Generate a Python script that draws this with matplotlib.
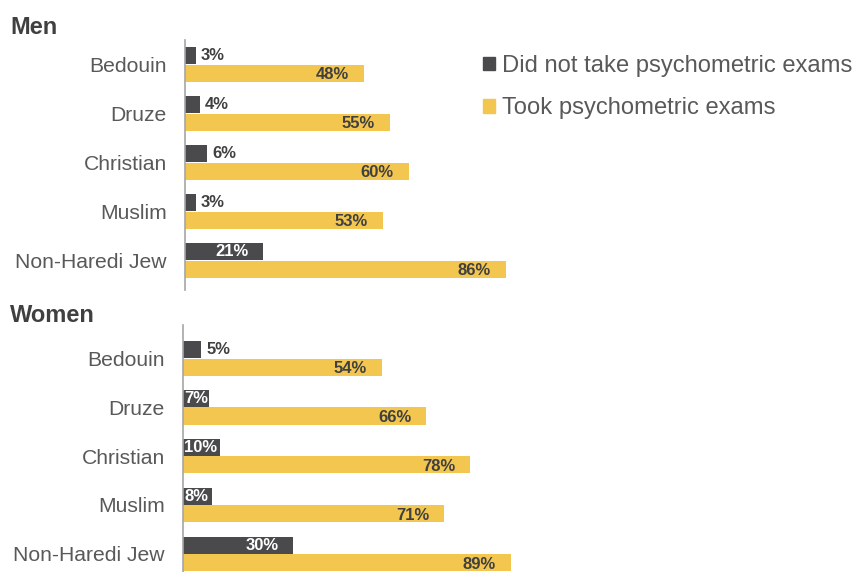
import matplotlib.pyplot as plt
from matplotlib.patches import Patch

plt.rcParams['font.family'] = ['Liberation Sans', 'DejaVu Sans']

groups = ["Bedouin", "Druze", "Christian", "Muslim", "Non-Haredi Jew"]
series_names = ["Did not take psychometric exams", "Took psychometric exams"]

men_not_took = [3, 4, 6, 3, 21]
men_took = [48, 55, 60, 53, 86]
women_not_took = [5, 7, 10, 8, 30]
women_took = [54, 66, 78, 71, 89]

DARK = "#4a4a4c"
YELLOW = "#f2c64f"
TEXT = "#595959"
LABEL = "#404040"

W, H = 857, 572
fig = plt.figure(figsize=(W / 100, H / 100), dpi=100)


def px_axes(left, top, width, height):
    return fig.add_axes([left / W, 1 - (top + height) / H, width / W, height / H])


def draw_panel(ax, not_took, took, ylim):
    y = list(range(len(groups)))
    h = 0.35
    off = 0.18
    ax.barh([v - off for v in y], not_took, height=h, color=DARK)
    ax.barh([v + off for v in y], took, height=h, color=YELLOW)

    for yi, v in zip(y, not_took):
        if v <= 6:
            ax.text(v + 1.3, yi - off, f"{v}%", ha="left", va="center",
                    color=LABEL, fontsize=12, fontweight="bold")
        elif v < 15:
            ax.text(0.3, yi - off, f"{v}%", ha="left", va="center",
                    color="white", fontsize=12, fontweight="bold")
        else:
            ax.text(v - 4, yi - off, f"{v}%", ha="right", va="center",
                    color="white", fontsize=12, fontweight="bold")
    for yi, v in zip(y, took):
        ax.text(v - 4, yi + off + 0.03, f"{v}%", ha="right", va="center",
                color=LABEL, fontsize=12, fontweight="bold")

    ax.set_xlim(0, 100)
    ax.set_ylim(*ylim)
    ax.set_yticks(y)
    ax.set_yticklabels(groups, fontsize=15.2, color=TEXT)
    ax.tick_params(axis="y", length=0, pad=13)
    ax.set_xticks([])
    for s in ["top", "right", "bottom"]:
        ax.spines[s].set_visible(False)
    ax.spines["left"].set_color("#a6a6a6")
    ax.spines["left"].set_linewidth(1.2)
    ax.patch.set_alpha(0)


ax_men = px_axes(185, 40, 373, 250)
draw_panel(ax_men, men_not_took, men_took, (4.6, -0.5))

ax_women = px_axes(183, 325, 368, 247)
draw_panel(ax_women, women_not_took, women_took, (4.37, -0.68))

fig.text(10 / W, 1 - 27 / H, "Men", fontsize=17, fontweight="bold",
         color=LABEL, va="center", ha="left")
fig.text(10 / W, 1 - 315 / H, "Women", fontsize=17, fontweight="bold",
         color=LABEL, va="center", ha="left")

handles = [Patch(color=DARK), Patch(color=YELLOW)]
fig.legend(handles, series_names, loc="upper left",
           bbox_to_anchor=(483 / W, 1 - 55 / H), frameon=False,
           fontsize=17.1, labelcolor=TEXT, handlelength=0.5, handleheight=0.5,
           handletextpad=0.3, labelspacing=0.86, borderpad=0, borderaxespad=0)

fig.savefig("out.png", dpi=100)
